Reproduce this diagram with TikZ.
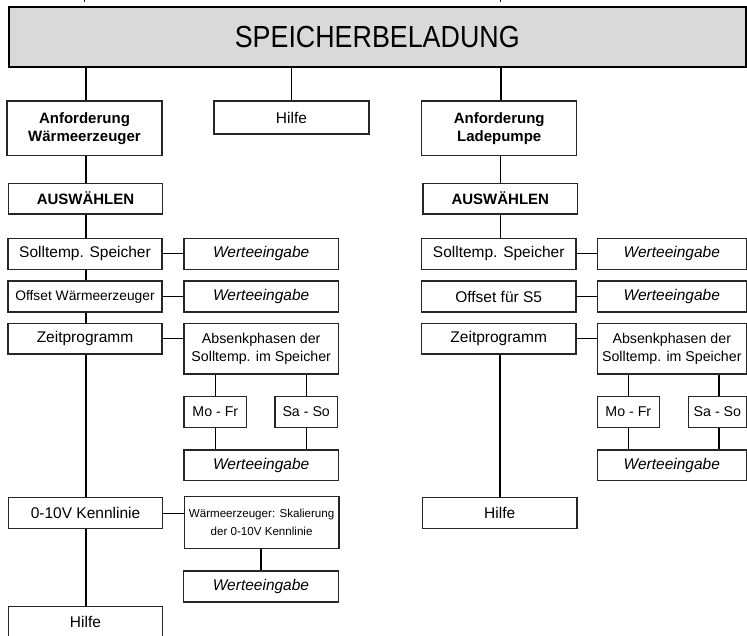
\documentclass[tikz,border=0pt]{standalone}
\usepackage{fontspec}
\setmainfont{Liberation Sans}
\newfontfamily\titlefont[FakeStretch=0.88]{Liberation Sans}
\usetikzlibrary{calc}
\begin{document}
\begin{tikzpicture}[x=1pt,y=-1pt,
  box/.style={draw=black!85, line width=1.25pt, fill=white, inner sep=0pt,
    align=center, text=black, font=\fontsize{15.5}{18.3}\selectfont},
  bold/.style={font=\fontsize{15}{18}\selectfont\bfseries},
  ital/.style={font=\fontsize{15.5}{18.3}\selectfont\itshape},
  small/.style={font=\fontsize{14.2}{18.3}\selectfont},
  tiny/.style={font=\fontsize{11.6}{18}\selectfont},
  sz/.style 2 args={minimum width=#1pt, minimum height=#2pt},
  conn/.style={line width=1.25pt, black},
  titlebox/.style={draw=black, line width=2.5pt, fill=black!15, inner sep=0pt,
    minimum width=737pt, minimum height=60.2pt,
    font=\fontsize{30.5}{36}\selectfont\titlefont},
]
\useasboundingbox (0,0) rectangle (747,635);
\clip (0,0) rectangle (747,635);

% title
\node[titlebox] (title) at (377.25,36.9) {SPEICHERBELADUNG};
\coordinate (tkA) at (84.5,0);
\coordinate (tkB) at (500.5,0);
\draw[conn, line width=0.8pt] (tkA) -- ++(0,1.6);
\draw[conn, line width=0.8pt] (tkB) -- ++(0,1.6);

% left branch
\node[box,bold,sz={155}{54.5}] (aw) at (84.5,128.25) {Anforderung\\Wärmeerzeuger};
\node[box,bold,sz={154.4}{30.7}] (ausL) at (85.5,198.6) {AUSWÄHLEN};
\node[box,sz={154}{31}] (sollL) at (85,253.8) {Solltemp. Speicher};
\node[box,sz={154}{31},font=\fontsize{13.8}{16}\selectfont] (offL) at (85,296.5) {Offset Wärmeerzeuger};
\node[box,sz={154}{30.7}] (zeitL) at (85,338.6) {Zeitprogramm};
\node[box,sz={154.4}{31}] (kennL) at (85.5,513.2) {0-10V Kennlinie};
\node[box,sz={154.4}{31}] (hilfeL) at (85.5,622.3) {Hilfe};

\node[box,ital,sz={154.3}{31}] (weL1) at (261.2,253.8) {Werteeingabe};
\node[box,ital,sz={154.3}{31}] (weL2) at (261.2,296.5) {Werteeingabe};
\node[box,small,sz={154.3}{50.7}] (absL) at (261.2,348.7) {Absenkphasen der\\Solltemp. im Speicher};
\node[box,small,sz={62.7}{30.7}] (mofrL) at (215.3,412) {Mo - Fr};
\node[box,small,sz={62.3}{30.7}] (sasoL) at (306.2,412) {Sa - So};
\node[box,ital,sz={154.3}{30.7}] (weL3) at (261.2,465.3) {Werteeingabe};
\node[box,tiny,sz={154.7}{51.6}] (skalL) at (261.6,522.5) {Wärmeerzeuger: Skalierung\\der 0-10V Kennlinie};
\node[box,ital,sz={154.6}{31}] (weL4) at (261,586.5) {Werteeingabe};

% middle
\node[box,sz={155}{33}] (hilfeM) at (291.5,117.5) {Hilfe};

% right branch
\node[box,bold,sz={155}{54.5}] (aR) at (499.2,128.25) {Anforderung\\Ladepumpe};
\node[box,bold,sz={154.7}{30.7}] (ausR) at (500.3,198.6) {AUSWÄHLEN};
\node[box,sz={154.7}{31}] (sollR) at (498.7,253.8) {Solltemp. Speicher};
\node[box,sz={154.7}{31}] (offR) at (498.7,296.5) {Offset für S5};
\node[box,sz={154.7}{30.7}] (zeitR) at (498.7,338.6) {Zeitprogramm};
\node[box,sz={154.7}{31}] (hilfeR) at (499.7,513.2) {Hilfe};

\node[box,ital,sz={149}{31}] (weR1) at (671.8,253.8) {Werteeingabe};
\node[box,ital,sz={149}{31}] (weR2) at (671.8,296.5) {Werteeingabe};
\node[box,small,sz={149}{50.7}] (absR) at (671.8,348.7) {Absenkphasen der\\Solltemp. im Speicher};
\node[box,small,sz={62}{30.7}] (mofrR) at (628.3,412) {Mo - Fr};
\node[box,small,sz={57.8}{30.7}] (sasoR) at (717.4,412) {Sa - So};
\node[box,ital,sz={149}{30.7}] (weR3) at (671.8,465.3) {Werteeingabe};

% connectors
\draw[conn] (title.south -| 86,0) -- (86,0 |- aw.north);
\draw[conn] (title.south -| hilfeM.north) -- (hilfeM.north);
\draw[conn] (title.south -| 501,0) -- (501,0 |- aR.north);

\draw[conn] (aw.south -| 86,0) -- (86,0 |- ausL.north);
\draw[conn] (ausL.south -| 86,0) -- (86,0 |- sollL.north);
\draw[conn] (sollL.south -| 86,0) -- (86,0 |- offL.north);
\draw[conn] (offL.south -| 86,0) -- (86,0 |- zeitL.north);
\draw[conn] (zeitL.south -| 86,0) -- (86,0 |- kennL.north);
\draw[conn] (kennL.south -| 86,0) -- (86,0 |- hilfeL.north);

\draw[conn] (sollL.east) -- (sollL.east -| weL1.west);
\draw[conn] (offL.east) -- (offL.east -| weL2.west);
\draw[conn] (zeitL.east) -- (zeitL.east -| absL.west);
\draw[conn] (absL.south -| mofrL.north) -- (mofrL.north);
\draw[conn] (absL.south -| sasoL.north) -- (sasoL.north);
\draw[conn] (mofrL.south) -- (mofrL.south |- weL3.north);
\draw[conn] (sasoL.south) -- (sasoL.south |- weL3.north);
\draw[conn] (kennL.east) -- (kennL.east -| skalL.west);
\draw[conn] (skalL.south -| weL4.north) -- (weL4.north);

\draw[conn] (aR.south -| 500.7,0) -- (500.7,0 |- ausR.north);
\draw[conn] (ausR.south -| 500.7,0) -- (500.7,0 |- sollR.north);
\draw[conn] (zeitR.south -| 500,0) -- (500,0 |- hilfeR.north);
\draw[conn] (sollR.east) -- (sollR.east -| weR1.west);
\draw[conn] (offR.east) -- (offR.east -| weR2.west);
\draw[conn] (zeitR.east) -- (zeitR.east -| absR.west);
\draw[conn] (absR.south -| mofrR.north) -- (mofrR.north);
\draw[conn] (absR.south -| 719,0) -- (719,0 |- sasoR.north);
\draw[conn] (mofrR.south) -- (mofrR.south |- weR3.north);
\draw[conn] (sasoR.south -| 719,0) -- (719,0 |- weR3.north);
\end{tikzpicture}
\end{document}
